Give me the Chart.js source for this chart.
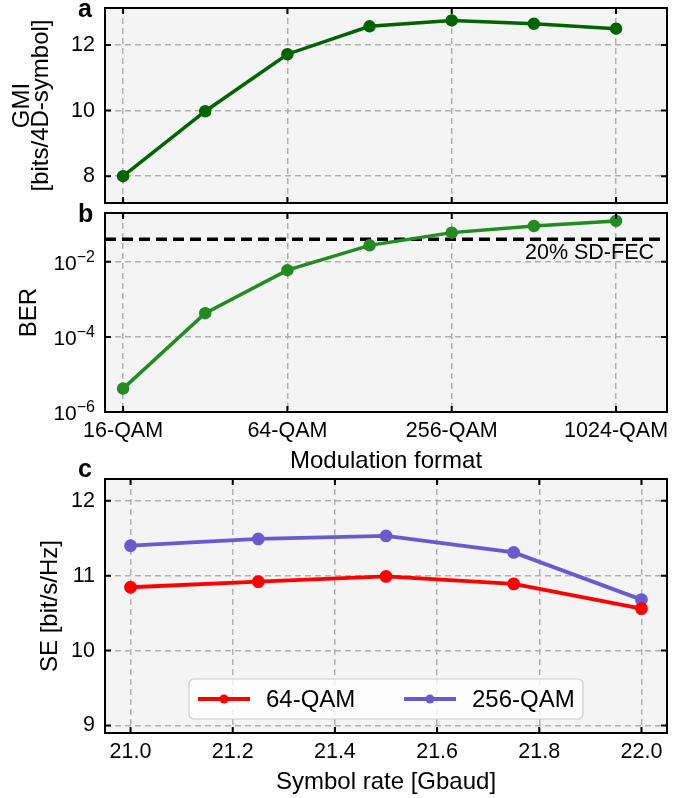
<!DOCTYPE html>
<html>
<head>
<meta charset="utf-8">
<script src="https://cdn.jsdelivr.net/npm/chart.js@4.4.1/dist/chart.umd.min.js"></script>
<style>
  html, body { margin: 0; padding: 0; background: #fff; }
  #wrap { position: relative; width: 691px; height: 798px; }
  #wrap canvas { position: absolute; left: 0; top: 0; }
</style>
</head>
<body>
<div id="wrap">
  <canvas id="gmiChart" width="691" height="798"></canvas>
  <canvas id="berChart" width="691" height="798"></canvas>
  <canvas id="seChart" width="691" height="798"></canvas>
</div>
<script>
// modulation format sweep (panels a, b)
const formats = ['16-QAM', '32-QAM', '64-QAM', '128-QAM', '256-QAM', '512-QAM', '1024-QAM'];
const bitsPerSymbol = [4, 5, 6, 7, 8, 9, 10];
const gmi = [8.0, 9.98, 11.72, 12.57, 12.75, 12.65, 12.50];
const ber = [4.2e-6, 4.3e-4, 6.0e-3, 2.75e-2, 6.0e-2, 9.0e-2, 1.23e-1];
const fecLimit = 4.0e-2;
const fecLabel = '20% SD-FEC';
const formatTicks = [4, 6, 8, 10];
const formatTickLabels = ['16-QAM', '64-QAM', '256-QAM', '1024-QAM'];
const gmiTicks = [8, 10, 12];
const berTicks = [1e-6, 1e-4, 1e-2];

// symbol rate sweep (panel c)
const symbolRate = [21.0, 21.25, 21.5, 21.75, 22.0];
const se64 = [10.845, 10.92, 10.99, 10.89, 10.56];
const se256 = [11.40, 11.49, 11.53, 11.31, 10.68];
const rateTicks = [21.0, 21.2, 21.4, 21.6, 21.8, 22.0];
const seTicks = [9, 10, 11, 12];

const W = 691, H = 798;
const PLOT_LEFT = 105, PLOT_RIGHT = 667;
const FONT = '"Liberation Sans", Arial, Helvetica, sans-serif';
const TICK_FONT = { family: FONT, size: 21.5 };
const TITLE_FONT = { family: FONT, size: 24, lineHeight: 0.8 };
const GRID = { color: '#b0b0b0', lineWidth: 1.5, drawTicks: false };
const DASH = { display: false, dash: [6, 4] };

Chart.defaults.font.family = FONT;
Chart.defaults.color = '#000';

const xy = (xs, ys) => xs.map((x, i) => ({ x: x, y: ys[i] }));
const fixTicks = vals => scale => { scale.ticks = vals.map(v => ({ value: v })); };
// fixed axis boxes so the plot areas line up across the three charts
const fitY = s => { s.width = PLOT_LEFT; s.paddingTop = 0; s.paddingBottom = 0; };
const fitX = h => s => { s.height = h; s.paddingLeft = 0; s.paddingRight = 0; };

// grey plot background, black frame and inward tick marks on all four sides
const frame = {
  id: 'frame',
  beforeDraw(chart) {
    const { ctx, chartArea: a } = chart;
    ctx.save();
    ctx.fillStyle = '#f4f4f4';
    ctx.fillRect(a.left, a.top, a.width, a.height);
    ctx.restore();
  },
  afterDraw(chart) {
    const { ctx, chartArea: a, scales } = chart;
    const len = 6;
    ctx.save();
    ctx.strokeStyle = '#000';
    ctx.lineWidth = 2;
    ctx.beginPath();
    scales.x.ticks.forEach(t => {
      const px = scales.x.getPixelForValue(t.value);
      ctx.moveTo(px, a.bottom); ctx.lineTo(px, a.bottom - len);
      ctx.moveTo(px, a.top); ctx.lineTo(px, a.top + len);
    });
    scales.y.ticks.forEach(t => {
      const py = scales.y.getPixelForValue(t.value);
      ctx.moveTo(a.left, py); ctx.lineTo(a.left + len, py);
      ctx.moveTo(a.right, py); ctx.lineTo(a.right - len, py);
    });
    ctx.stroke();
    ctx.strokeRect(a.left, a.top, a.width, a.height);
    ctx.restore();
  }
};

function panelLetter(letter, x, y) {
  return {
    id: 'letter' + letter,
    afterDraw(chart) {
      const ctx = chart.ctx;
      ctx.save();
      ctx.font = 'bold 25px ' + FONT;
      ctx.fillStyle = '#000';
      ctx.textBaseline = 'alphabetic';
      ctx.fillText(letter, x, y);
      ctx.restore();
    }
  };
}

function baseOptions(top, bottom, xHeight) {
  return {
    responsive: false,
    animation: false,
    events: [],
    layout: { padding: { left: 0, right: W - PLOT_RIGHT, top: top, bottom: H - bottom - xHeight } },
    plugins: { legend: { display: false }, tooltip: { enabled: false } }
  };
}

// a: GMI
const optsA = baseOptions(6, 203, 0);
optsA.scales = {
  x: {
    type: 'linear', min: 3.78, max: 10.62,
    afterBuildTicks: fixTicks(formatTicks),
    afterFit: fitX(0),
    ticks: { display: false },
    grid: GRID, border: DASH
  },
  y: {
    min: 7.18, max: 13.13,
    afterBuildTicks: fixTicks(gmiTicks),
    afterFit: fitY,
    ticks: { font: TICK_FONT, padding: 10 },
    grid: GRID, border: DASH,
    title: { display: true, text: ['GMI', '[bits/4D-symbol]'], font: TITLE_FONT, padding: { top: 13 } }
  }
};
new Chart(document.getElementById('gmiChart'), {
  type: 'line',
  data: {
    datasets: [{
      label: 'GMI',
      data: xy(bitsPerSymbol, gmi),
      borderColor: '#006400', backgroundColor: '#006400',
      borderWidth: 3.5, pointRadius: 4.5, tension: 0
    }]
  },
  options: optsA,
  plugins: [frame, panelLetter('a', 78, 17)]
});

// b: BER with FEC threshold
const optsB = baseOptions(213, 412, 70);
optsB.scales = {
  x: {
    type: 'linear', min: 3.78, max: 10.62,
    afterBuildTicks: fixTicks(formatTicks),
    afterFit: fitX(70),
    ticks: {
      font: TICK_FONT, padding: 6, autoSkip: false, maxRotation: 0,
      callback: v => formatTickLabels[formatTicks.indexOf(v)]
    },
    grid: GRID, border: DASH,
    title: { display: true, text: 'Modulation format', font: TITLE_FONT, padding: { bottom: 11.5 } }
  },
  y: {
    type: 'logarithmic', min: 1e-6, max: 0.2,
    afterBuildTicks: fixTicks(berTicks),
    afterFit: fitY,
    ticks: { display: false },
    grid: GRID, border: DASH,
    title: { display: true, text: 'BER', font: TITLE_FONT, padding: { top: 20 } }
  }
};

// power-of-ten labels with raised exponents, plus the FEC caption
const berLabels = {
  id: 'berLabels',
  afterDraw(chart) {
    const { ctx, chartArea: a, scales } = chart;
    ctx.save();
    ctx.fillStyle = '#000';
    ctx.textBaseline = 'middle';
    ctx.textAlign = 'right';
    berTicks.forEach(v => {
      const py = scales.y.getPixelForValue(v);
      const exp = '\u2212' + Math.round(-Math.log10(v));
      ctx.font = '16px ' + FONT;
      const ew = ctx.measureText(exp).width;
      ctx.fillText(exp, a.left - 10, py - 4.5);
      ctx.font = '21px ' + FONT;
      ctx.fillText('10', a.left - 10 - ew, py + 2);
    });
    ctx.font = '21.5px ' + FONT;
    ctx.textBaseline = 'alphabetic';
    ctx.fillText(fecLabel, a.right - 13, scales.y.getPixelForValue(fecLimit) + 20);
    ctx.restore();
  }
};

new Chart(document.getElementById('berChart'), {
  type: 'line',
  data: {
    datasets: [{
      label: 'BER',
      data: xy(bitsPerSymbol, ber),
      borderColor: '#228b22', backgroundColor: '#228b22',
      borderWidth: 3.5, pointRadius: 4.5, tension: 0, order: 1
    }, {
      label: fecLabel,
      data: [{ x: 3.78, y: fecLimit }, { x: 10.62, y: fecLimit }],
      borderColor: '#000', borderWidth: 3.5, borderDash: [11, 6],
      pointRadius: 0, order: 2
    }]
  },
  options: optsB,
  plugins: [frame, berLabels, panelLetter('b', 78, 222)]
});

// c: spectral efficiency vs symbol rate
const optsC = baseOptions(479, 733, 65);
optsC.scales = {
  x: {
    type: 'linear', min: 20.95, max: 22.05,
    afterBuildTicks: fixTicks(rateTicks),
    afterFit: fitX(65),
    ticks: { font: TICK_FONT, padding: 6, autoSkip: false, maxRotation: 0, callback: v => v.toFixed(1) },
    grid: GRID, border: DASH,
    title: { display: true, text: 'Symbol rate [Gbaud]', font: TITLE_FONT, padding: { bottom: 6.5 } }
  },
  y: {
    min: 8.9, max: 12.29,
    afterBuildTicks: fixTicks(seTicks),
    afterFit: fitY,
    ticks: { font: TICK_FONT, padding: 10 },
    grid: GRID, border: DASH,
    title: { display: true, text: 'SE [bit/s/Hz]', font: TITLE_FONT, padding: { top: 41 } }
  }
};

// legend box inside the plot, lower centre, two columns
const seLegend = {
  id: 'seLegend',
  afterDraw(chart) {
    const { ctx, chartArea: a } = chart;
    const bw = 394, bh = 40;
    const bx = (a.left + a.right) / 2 - bw / 2;
    const by = a.bottom - 14 - bh;
    const cy = by + bh / 2;
    ctx.save();
    ctx.beginPath();
    ctx.roundRect(bx, by, bw, bh, 5);
    ctx.fillStyle = 'rgba(255,255,255,0.8)';
    ctx.fill();
    ctx.strokeStyle = '#cccccc';
    ctx.lineWidth = 1.2;
    ctx.stroke();
    const cols = [9, 215];
    chart.data.datasets.forEach((ds, i) => {
      const x0 = bx + cols[i];
      ctx.strokeStyle = ds.borderColor;
      ctx.lineWidth = ds.borderWidth;
      ctx.beginPath();
      ctx.moveTo(x0, cy); ctx.lineTo(x0 + 52, cy);
      ctx.stroke();
      ctx.fillStyle = ds.borderColor;
      ctx.beginPath();
      ctx.arc(x0 + 26, cy, ds.pointRadius, 0, Math.PI * 2);
      ctx.fill();
      ctx.fillStyle = '#000';
      ctx.font = '24px ' + FONT;
      ctx.textBaseline = 'middle';
      ctx.fillText(ds.label, x0 + 68, cy + 1);
    });
    ctx.restore();
  }
};

new Chart(document.getElementById('seChart'), {
  type: 'line',
  data: {
    datasets: [{
      label: '64-QAM',
      data: xy(symbolRate, se64),
      borderColor: '#ff0000', backgroundColor: '#ff0000',
      borderWidth: 3.8, pointRadius: 4.5, tension: 0
    }, {
      label: '256-QAM',
      data: xy(symbolRate, se256),
      borderColor: '#6a5acd', backgroundColor: '#6a5acd',
      borderWidth: 3.8, pointRadius: 4.5, tension: 0
    }]
  },
  options: optsC,
  plugins: [frame, seLegend, panelLetter('c', 78, 477)]
});
</script>
</body>
</html>
